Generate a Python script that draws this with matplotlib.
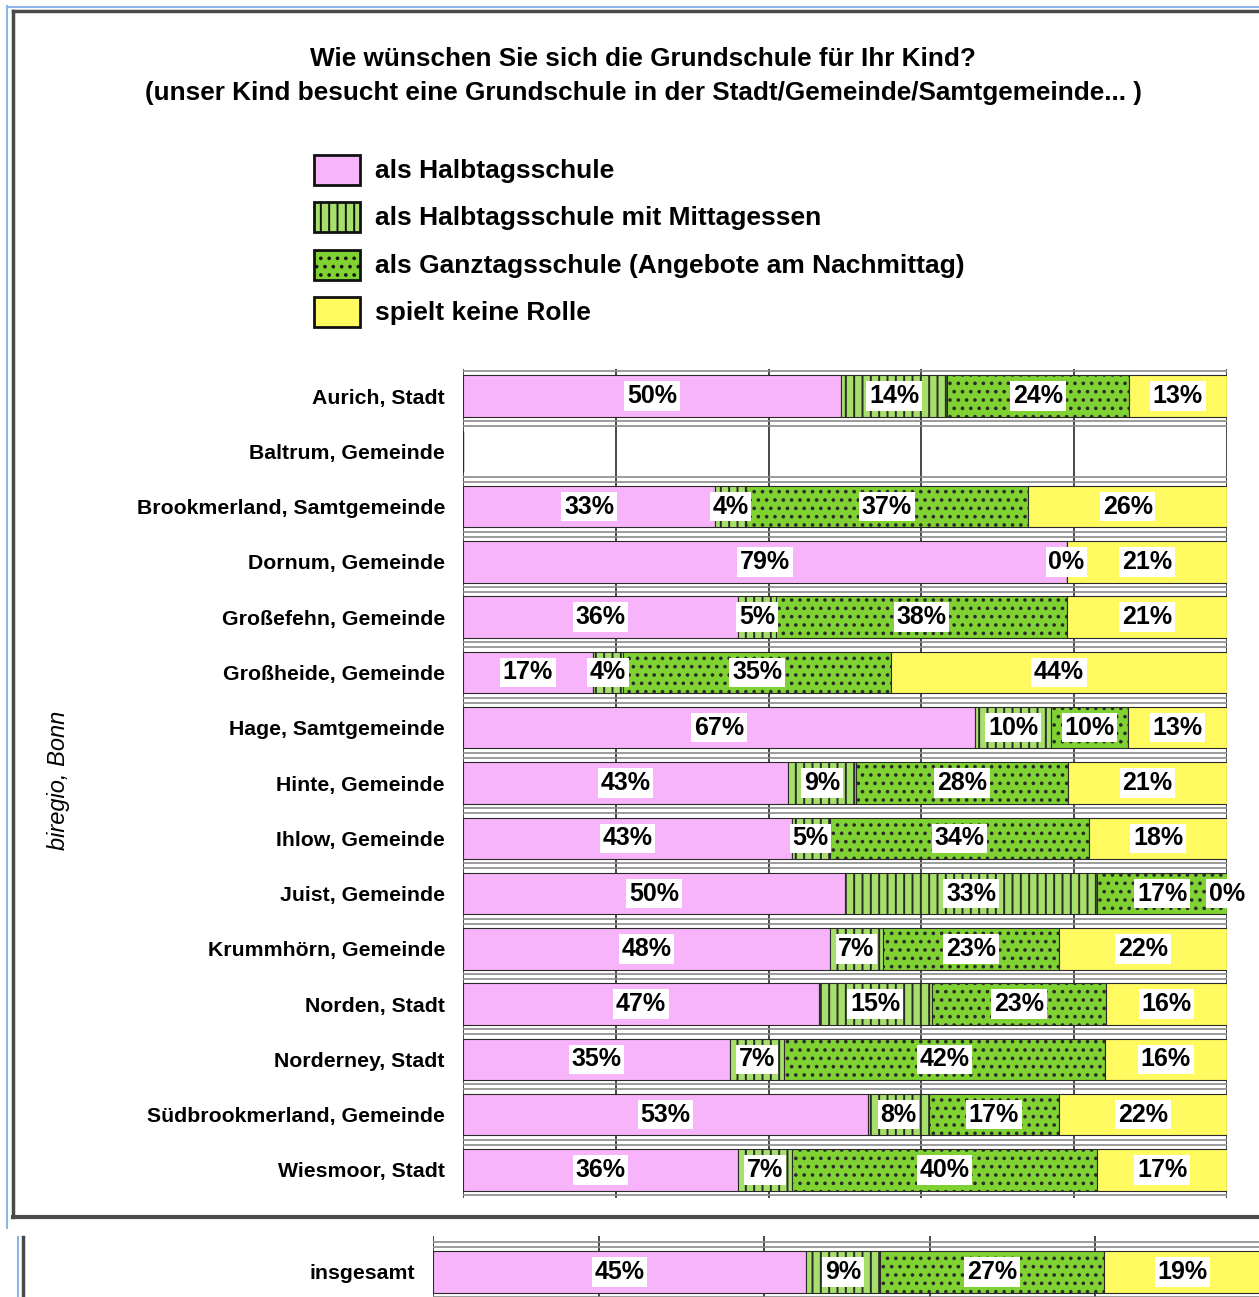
import numpy as np
import matplotlib
matplotlib.use("Agg")
from matplotlib import pyplot as plt
from matplotlib.lines import Line2D

plt.rcParams['font.family'] = ['Liberation Sans', 'DejaVu Sans']
plt.rcParams['hatch.linewidth'] = 1.4

W, H = 1259, 1297

# --- data (percent, as printed on the chart) ---
orte = ["Aurich, Stadt", "Baltrum, Gemeinde", "Brookmerland, Samtgemeinde",
        "Dornum, Gemeinde", "Großefehn, Gemeinde", "Großheide, Gemeinde",
        "Hage, Samtgemeinde", "Hinte, Gemeinde", "Ihlow, Gemeinde",
        "Juist, Gemeinde", "Krummhörn, Gemeinde", "Norden, Stadt",
        "Norderney, Stadt", "Südbrookmerland, Gemeinde", "Wiesmoor, Stadt"]
halbtags = [50, np.nan, 33, 79, 36, 17, 67, 43, 43, 50, 48, 47, 35, 53, 36]
mittag = [14, np.nan, 4, 0, 5, 4, 10, 9, 5, 33, 7, 15, 7, 8, 7]
ganztag = [24, np.nan, 37, np.nan, 38, 35, 10, 28, 34, 17, 23, 23, 42, 17, 40]
egal = [13, np.nan, 26, 21, 21, 44, 13, 21, 18, 0, 22, 16, 16, 22, 17]

gesamt_label = "insgesamt"
gesamt = [45, 9, 27, 19]

serien = ["als Halbtagsschule", "als Halbtagsschule mit Mittagessen",
          "als Ganztagsschule (Angebote am Nachmittag)", "spielt keine Rolle"]
farben = ["#f8b4fa", "#a6e06a", "#80d232", "#fffa60"]
hatches = [None, "||", "..", None]

title = ("Wie wünschen Sie sich die Grundschule für Ihr Kind?\n"
         "(unser Kind besucht eine Grundschule in der Stadt/Gemeinde/Samtgemeinde... )")


def fx(x):
    return x / W


def fy(y):
    return 1 - y / H


def draw_rows(ax, data, n_rows):
    data = np.array(data, dtype=float)
    totals = np.nansum(data, axis=1)
    totals[totals == 0] = 1
    shares = np.nan_to_num(data) / totals[:, None] * 100
    # vertical grid
    for g in range(0, 101, 20):
        ax.axvline(g, color="#3a3a3a", lw=1.3, zorder=1)
    # double separator lines between rows
    for b in np.arange(-0.5, n_rows, 1.0):
        for d in (-0.045, 0.045):
            ax.axhline(b + d, color="#8a8a8a", lw=1.2, zorder=1)
    left = np.zeros(len(data))
    for j in range(4):
        ax.barh(np.arange(len(data)), shares[:, j], left=left, height=0.75,
                color=farben[j], hatch=hatches[j], edgecolor="#2a2a2a",
                linewidth=0.8, zorder=2)
        for i in range(len(data)):
            v = data[i, j]
            if np.isnan(v):
                continue
            ax.text(left[i] + shares[i, j] / 2, i, f"{v:.0f}%",
                    ha="center", va="center", fontsize=18, fontweight="bold",
                    zorder=4, clip_on=False,
                    bbox=dict(facecolor="white", edgecolor="none", pad=2))
        left = left + shares[:, j]
    ax.set_xlim(0, 100)
    for s in ax.spines.values():
        s.set_visible(False)
    ax.set_xticks([])
    ax.tick_params(axis="y", length=0, pad=13)


fig = plt.figure(figsize=(W / 100, H / 100), dpi=100)

# frame of the original page
frame = [
    ((7, 7), (6, 1228), "#8fb6e8", 1.5),
    ((7, 1259), (6.5, 6.5), "#8fb6e8", 1.5),
    ((12.5, 12.5), (11, 1217), "#4a4a4a", 2.5),
    ((12.5, 1259), (11, 11), "#4a4a4a", 2.5),
    ((12.5, 1259), (1216.5, 1216.5), "#4a4a4a", 3),
    ((18, 18), (1237, 1297), "#8fb6e8", 1.5),
    ((22.5, 22.5), (1237, 1297), "#4a4a4a", 2.5),
]
for xs, ys, c, lw in frame:
    fig.add_artist(Line2D([fx(x) for x in xs], [fy(y) for y in ys],
                          color=c, lw=lw, transform=fig.transFigure))

fig.text(fx(643), fy(76), title, ha="center", va="center", fontsize=18.8,
         fontweight="bold", linespacing=1.5)

# legend
for k, name in enumerate(serien):
    yc = 170 + k * 47.3
    fig.patches.append(plt.Rectangle((fx(314), fy(yc + 15)), 46 / W, 30 / H,
                                     facecolor=farben[k], hatch=hatches[k],
                                     edgecolor="#111111", lw=2,
                                     transform=fig.transFigure, figure=fig))
    fig.text(fx(375), fy(yc + 1), name, ha="left", va="center", fontsize=19,
             fontweight="bold")

fig.text(fx(58), fy(780), "biregio, Bonn", rotation=90, ha="center",
         va="center", fontsize=17, style="italic")

# main chart
ax = fig.add_axes([fx(463), fy(1197.5), (1227 - 463) / W, (1197.5 - 368.5) / H])
draw_rows(ax, np.column_stack([halbtags, mittag, ganztag, egal]), len(orte))
ax.set_ylim(len(orte) - 0.5, -0.5)
ax.set_yticks(range(len(orte)))
ax.set_yticklabels(orte, fontsize=15.3, fontweight="bold")

# total bar on the next page part
ax2 = fig.add_axes([fx(433), fy(1297), 828 / W, (1297 - 1236) / H])
draw_rows(ax2, [gesamt], 1)
ax2.set_ylim(0.454, -0.653)
ax2.set_yticks([0])
ax2.set_yticklabels([gesamt_label], fontsize=15.3, fontweight="bold")

fig.savefig("out.png", dpi=100)
